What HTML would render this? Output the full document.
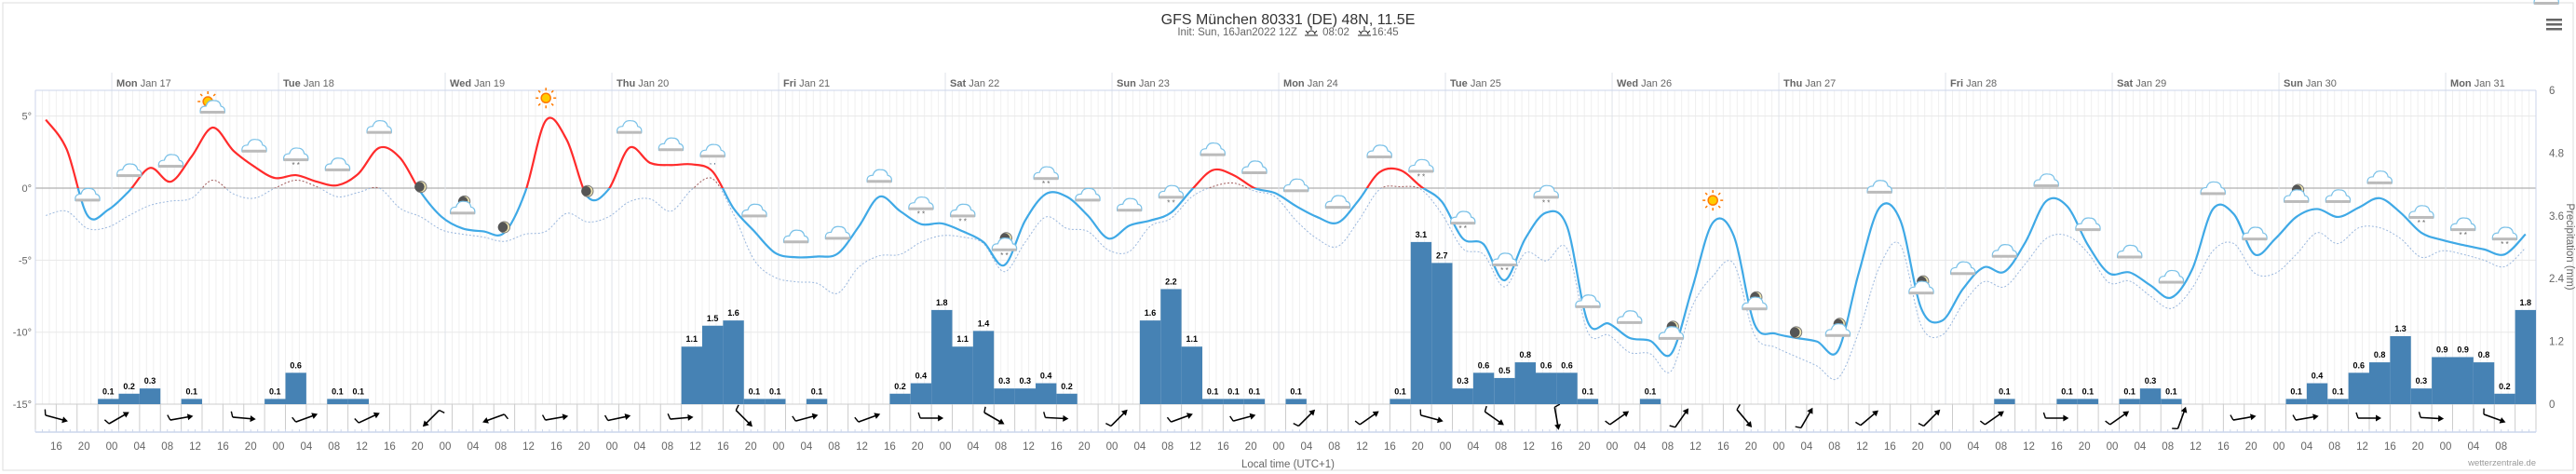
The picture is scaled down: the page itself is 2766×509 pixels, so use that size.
<!DOCTYPE html>
<html><head><meta charset="utf-8">
<style>
html,body{margin:0;padding:0;background:#fff;}
svg{display:block;font-family:"Liberation Sans","DejaVu Sans",sans-serif;}
</style></head>
<body>
<svg id="chart" width="2766" height="509" viewBox="0 0 2766 509" xmlns="http://www.w3.org/2000/svg">
<defs>
  <g id="cloud">
    <path d="M-13,4 Q-14,-3 -7,-3 Q-5,-10 2,-9 Q8,-9 9,-3 Q14,-2 13,4 Z" fill="#fff" stroke="#7cc2e8" stroke-width="1.2"/>
    <rect x="-13" y="2" width="26" height="3" fill="#bbb"/>
  </g>
  <g id="sun">
    <circle r="5" fill="#ffcc00" stroke="#ff7a00" stroke-width="1.5"/>
    <g stroke="#ff7a00" stroke-width="1.5">
      <line x1="0" y1="-11" x2="0" y2="-8"/><line x1="0" y1="8" x2="0" y2="11"/>
      <line x1="-11" y1="0" x2="-8" y2="0"/><line x1="8" y1="0" x2="11" y2="0"/>
      <line x1="-8" y1="-8" x2="-6" y2="-6"/><line x1="6" y1="6" x2="8" y2="8"/>
      <line x1="-8" y1="8" x2="-6" y2="6"/><line x1="6" y1="-6" x2="8" y2="-8"/>
    </g>
  </g>
  <g id="moon">
    <circle r="6" fill="#f1e7b0" stroke="#777" stroke-width="1"/>
    <circle cx="-1.5" r="5.3" fill="#555"/>
  </g>
  <clipPath id="clipAbove"><rect x="38" y="97" width="2685" height="105"/></clipPath>
  <clipPath id="clipBelow"><rect x="38" y="202" width="2685" height="232"/></clipPath>
</defs>
<rect x="3" y="3" width="2760" height="502" fill="#fff" stroke="#ddd" stroke-width="1"/>
<g id="grid"></g>
<g id="series"></g>
<g id="axes"></g>

<text x="1383" y="26" text-anchor="middle" font-size="16" fill="#333">GFS München 80331 (DE) 48N, 11.5E</text>
<text x="1383" y="38" text-anchor="middle" font-size="11.5" fill="#666">Init: Sun, 16Jan2022 12Z <tspan dx="24">08:02</tspan><tspan dx="24">16:45</tspan></text>
<g stroke="#222" stroke-width="1" fill="none">
  <line x1="1401" y1="38" x2="1415" y2="38"/><path d="M1404,37 A4,4 0 0 1 1412,37"/>
  <line x1="1408" y1="28" x2="1408" y2="32"/><line x1="1402" y1="33" x2="1404" y2="35"/><line x1="1414" y1="33" x2="1412" y2="35"/>
</g>
<g stroke="#222" stroke-width="1" fill="none">
  <line x1="1458" y1="38" x2="1472" y2="38"/><path d="M1461,37 A4,4 0 0 1 1469,37"/>
  <line x1="1465" y1="28" x2="1465" y2="32"/><line x1="1459" y1="33" x2="1461" y2="35"/><line x1="1471" y1="33" x2="1469" y2="35"/>
</g>
<g fill="#666">
  <rect x="2734" y="20" width="17" height="2.5"/><rect x="2734" y="25" width="17" height="2.5"/><rect x="2734" y="30" width="17" height="2.5"/>
</g>
<text x="1383" y="502" text-anchor="middle" font-size="11.5" fill="#666">Local time (UTC+1)</text>
<text x="2723" y="500" text-anchor="end" font-size="9.5" fill="#999">wetterzentrale.de</text>
<text transform="translate(2756,265) rotate(90)" text-anchor="middle" font-size="11.5" fill="#666">Precipitation (mm)</text>
</svg>
<script>
const temp = [4.75,2.7,-1.9,-1.5,-0.2,1.4,0.45,2.2,4.2,2.6, 1.5,0.7,0.9,0.45,0.2,1.0,2.8,2.1,-0.3,-2.0,
 -2.8,-3.0,-3.1,-0.3,4.7,3.35,-0.6,-0.1,2.8,1.75, 1.6,1.65,1.15,-1.4,-3.0,-4.5,-4.8,-4.75,-4.55,-2.7,
 -0.6,-1.6,-2.5,-2.45,-3.0,-3.75,-5.35,-2.25,-0.4,-0.6, -1.9,-3.5,-2.6,-2.25,-1.7,-0.1,1.25,0.9,0,-0.35,
 -1.25,-2.0,-2.4,-0.85,1.1,1.25,0.1,-0.95,-3.5,-3.9, -6.4,-3.5,-1.7,-2.65,-9.3,-9.4,-10.4,-10.6,-11.5,-7.0,
 -2.4,-3.3,-9.45,-10.1,-10.4,-10.65,-11.3,-5.9,-1.35,-2.25, -8.35,-9.2,-7.0,-5.5,-5.8,-3.75,-0.9,-1.25,-3.95,-5.9,
 -5.85,-6.75,-7.6,-5.65,-1.45,-1.8,-4.6,-3.5,-2.0,-1.45, -2.0,-1.35,-0.7,-1.7,-3.1,-3.6,-3.95,-4.25,-4.6,-3.2];
const dew = [-1.9,-1.6,-2.8,-2.7,-1.9,-1.2,-0.9,-0.7,0.55,-0.4, -0.7,0,0.55,0.1,-0.6,-0.3,0,-1.4,-2.0,-2.9,
 -3.2,-3.4,-3.7,-3.2,-3.0,-1.75,-2.35,-2.0,-0.95,-0.75, -1.6,-0.1,0.65,-1.8,-5.0,-6.2,-6.5,-6.6,-7.3,-5.5,
 -4.7,-4.6,-3.75,-3.3,-3.4,-3.85,-5.8,-3.75,-2.0,-2.8, -3.0,-4.3,-4.4,-2.65,-2.1,-0.6,0.1,0.35,-0.2,-0.6,
 -2.25,-3.5,-4.05,-2.25,-0.1,0.1,-0.1,-1.8,-4.2,-4.6, -6.85,-4.5,-5.05,-4.2,-10.0,-10.2,-11.4,-11.5,-12.7,-8.25,
 -6.1,-5.25,-10.2,-11.05,-11.7,-12.35,-13.2,-10.0,-5.45,-3.95, -9.55,-10.2,-8.05,-6.5,-6.85,-5.25,-3.5,-3.3,-4.5,-6.55,
 -6.45,-7.5,-8.35,-6.95,-4.35,-3.85,-5.9,-5.9,-4.6,-3.1, -3.85,-2.75,-2.75,-3.5,-4.8,-4.35,-4.6,-5.0,-5.45,-4.15];
const precip = [0,0,0,0.1,0.2,0.3,0,0.1,0,0, 0,0.1,0.6,0,0.1,0.1,0,0,0,0,
 0,0,0,0,0,0,0,0,0,0, 0,1.1,1.5,1.6,0.1,0.1,0,0.1,0,0,
 0,0.2,0.4,1.8,1.1,1.4,0.3,0.3,0.4,0.2, 0,0,0,1.6,2.2,1.1,0.1,0.1,0.1,0,
 0.1,0,0,0,0,0.1,3.1,2.7,0.3,0.6, 0.5,0.8,0.6,0.6,0.1,0,0,0.1,0,0,
 0,0,0,0,0,0,0,0,0,0, 0,0,0,0,0.1,0,0,0.1,0.1,0,
 0.1,0.3,0.1,0,0,0,0,0,0.1,0.4, 0.1,0.6,0.8,1.3,0.3,0.9,0.9,0.8,0.2,1.8];
const windDir = [15,-30,-10,5,-20,-25,135, 160,-10,-12,-5,45,-15,-20, 0,30,3,-45,-20,-15,-45,
 -35,15,35,80,-35,-55,50, -60,-40,-45,-35,0,-35,-70, -10,-10,0,3,20];
const iconType = ['', 'c','c','c','sc','c','cs','c','c','m','mc', 'm','s','m','c','c','cr','c','c','c','c',
 'cs','cs','mcs','cs','c','c','cs','c','c','c', 'c','c','cs','cs','cs','cs','c','c','mc','s',
 'mc','m','mc','c','mc','c','c','c','c','c', 'c','c','c','mc','c','c','cs','cs','cs','c'];
const dayNames = ['Mon','Tue','Wed','Thu','Fri','Sat','Sun','Mon','Tue','Wed','Thu','Fri','Sat','Sun','Mon'];
const dayDates = ['Jan 17','Jan 18','Jan 19','Jan 20','Jan 21','Jan 22','Jan 23','Jan 24','Jan 25','Jan 26','Jan 27','Jan 28','Jan 29','Jan 30','Jan 31'];
const tempTicks = [5,0,-5,-10,-15];
const precipTicks = [6,4.8,3.6,2.4,1.2,0];

const NS='http://www.w3.org/2000/svg';
const L=38, R=2723, T=97, B=434;
const H0=-11, H1=349;
const xH = h => L + (h-H0)*(R-L)/(H1-H0);
const xBar = i => xH(H0 + 3*i);
const xPt = i => xH(H0 + 3*i + 1.5);
const yT = t => 202 - t*15.47;
const yP = p => B - p*(B-T)/6;

function el(tag, attrs, parent, txt){
  const e=document.createElementNS(NS,tag);
  for(const k in attrs) e.setAttribute(k,attrs[k]);
  if(txt!==undefined) e.textContent=txt;
  parent.appendChild(e); return e;
}
const grid=document.getElementById('grid'), ser=document.getElementById('series'), ax=document.getElementById('axes');

for(let h=H0; h<=H1; h++){
  const x=xH(h);
  const g=el('line',{x1:x,y1:T,x2:x,y2:B,stroke:'#f0f0f0','stroke-width':1},grid);
  
  
}
tempTicks.forEach(t=>{
  const y=yT(t);
  const g=el('line',{x1:L,y1:y,x2:R,y2:y,stroke:t===0?'#b0b0b0':'#e8e8e8','stroke-width':t===0?1.3:1},grid);
  
  
  const lb=el('text',{x:L-4,y:y+4,'text-anchor':'end','font-size':11,fill:'#666'},ax,t+'°');
  
  
});
precipTicks.forEach(p=>{
  const lb=el('text',{x:2737,y:yP(p)+4,'font-size':11.5,fill:'#666'},ax,String(p));
  
  
});
dayNames.forEach((d,k)=>{
  const x=xH(24*k);
  const g=el('line',{x1:x,y1:78,x2:x,y2:B,stroke:'#dfe3ea','stroke-width':1},grid);
  
  
  const t=el('text',{x:x+5,y:93,'font-size':11,fill:'#666'},ax);
  
  
  el('tspan',{'font-weight':'bold'},t,d);
  el('tspan',{},t,' '+dayDates[k]);
});
el('line',{x1:L,y1:T,x2:R,y2:T,stroke:'#ccd6eb'},grid);
el('line',{x1:L,y1:T,x2:L,y2:464,stroke:'#ccd6eb'},grid);
el('line',{x1:R,y1:T,x2:R,y2:B,stroke:'#ccd6eb'},grid);

el('line',{x1:L,y1:B,x2:R,y2:B,stroke:'#ccc'},grid);
for(let i=0;i<=120;i++){
  const x=xBar(i);
  const g=el('line',{x1:x,y1:B,x2:x,y2:464,stroke:'#ccc'},grid);
  
  
}
el('line',{x1:L,y1:464,x2:R,y2:464,stroke:'#ccd6eb','stroke-width':1.5},ax);
for(let h=H0; h<=H1; h++){
  const x=xH(h);
  el('line',{x1:x,y1:461,x2:x,y2:464,stroke:'#ccd6eb'},ax);
}
for(let h=-8; h<=H1-4; h+=4){
  const hh=((h%24)+24)%24;
  const lb=el('text',{x:xH(h),y:483,'text-anchor':'middle','font-size':11.5,fill:'#666'},ax,(hh<10?'0':'')+hh);
  
  
}
windDir.forEach((a,k)=>{
  const cx=xBar(3*k+1), cy=449;
  const g=el('g',{transform:`translate(${cx},${cy}) rotate(${a})`},ser);
  
  
  el('line',{x1:-12,y1:0,x2:10,y2:0,stroke:'#000','stroke-width':1.6},g);
  el('path',{d:'M13,0 L7,-3.5 L7,3.5 Z',fill:'#000'},g);
  el('line',{x1:-12,y1:0,x2:-14,y2:-6,stroke:'#000','stroke-width':1.4},g);
});

precip.forEach((p,i)=>{
  if(p<=0) return;
  const x=xBar(i), w=xBar(i+1)-x, y=yP(p);
  const r=el('rect',{x:x,y:y,width:w,height:B-y,fill:'#4682b4'},ser);
  
  
  const lb=el('text',{x:x+w/2,y:y-5,'text-anchor':'middle','font-size':9,'font-weight':'bold',fill:'#000',stroke:'#fff','stroke-width':2,'paint-order':'stroke'},ser,p.toFixed(1));
  
  
});

function spline(vals){
  const pts=vals.map((v,i)=>[xPt(i),yT(v)]);
  let d=`M${pts[0][0]},${pts[0][1]}`;
  for(let i=0;i<pts.length-1;i++){
    const p0=pts[Math.max(i-1,0)],p1=pts[i],p2=pts[i+1],p3=pts[Math.min(i+2,pts.length-1)];
    const c1=[p1[0]+(p2[0]-p0[0])/6,p1[1]+(p2[1]-p0[1])/6];
    const c2=[p2[0]-(p3[0]-p1[0])/6,p2[1]-(p3[1]-p1[1])/6];
    d+=` C${c1[0]},${c1[1]} ${c2[0]},${c2[1]} ${p2[0]},${p2[1]}`;
  }
  return d;
}
const dd=spline(dew), td=spline(temp);
const dewA=el('path',{d:dd,fill:'none',stroke:'#a05a5a','stroke-width':1,'stroke-dasharray':'2,2','clip-path':'url(#clipAbove)'},ser);


const dewB=el('path',{d:dd,fill:'none',stroke:'#9bb8de','stroke-width':1,'stroke-dasharray':'2,2','clip-path':'url(#clipBelow)'},ser);


const tA=el('path',{d:td,fill:'none',stroke:'#ff2b2b','stroke-width':2.2,'clip-path':'url(#clipAbove)'},ser);


const tB=el('path',{d:td,fill:'none',stroke:'#3fa9e6','stroke-width':2.2,'clip-path':'url(#clipBelow)'},ser);



iconType.forEach((t,k)=>{
  if(!t) return;
  const i=2*k, x=xPt(i), yc=yT(temp[i]);
  const g=el('g',{},ser);
  
  
  if(t==='s'){ el('use',{href:'#sun',x:x,y:yc-24},g); return; }
  if(t==='m'){ el('use',{href:'#moon',x:x,y:yc-6},g); return; }
  const y=yc-20;
  if(t.startsWith('sc')) el('use',{href:'#sun',x:x-5,y:y-8},g);
  if(t.startsWith('mc')) el('use',{href:'#moon',x:x+2,y:y-9},g);
  el('use',{href:'#cloud',x:x,y:y},g);
  if(t.endsWith('s')) el('text',{x:x,y:y+12,'text-anchor':'middle','font-size':8,fill:'#666'},g,'* *');
  if(t.endsWith('r')) el('text',{x:x,y:y+12,'text-anchor':'middle','font-size':8,fill:'#246'},g,', ,');
});
</script>
</body></html>
